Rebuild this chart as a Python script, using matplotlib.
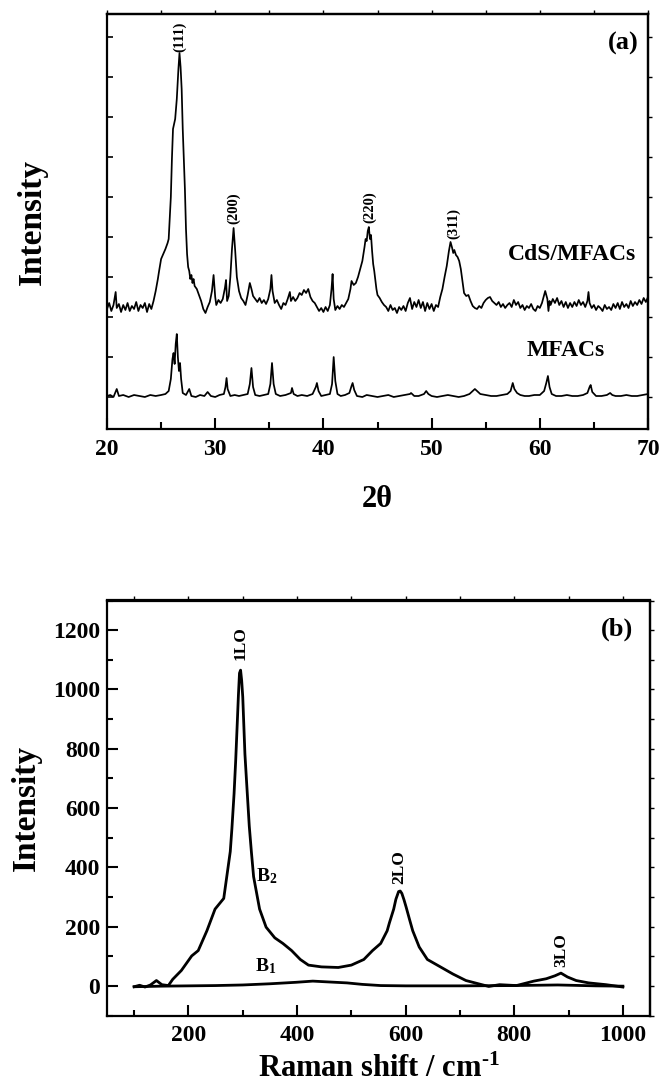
import numpy as np
import matplotlib
matplotlib.use("Agg")
import matplotlib.pyplot as plt
from matplotlib.ticker import MultipleLocator, NullFormatter

# ---- (a) XRD data (arbitrary intensity, offset curves) ----
cds_2theta = [20.0, 20.2, 20.4, 20.6, 20.8, 20.9, 21.1, 21.3, 21.5, 21.7, 21.9, 22.1, 22.3, 22.5, 22.7,
              22.9, 23.1, 23.3, 23.5, 23.7, 23.9, 24.1, 24.3, 24.5, 24.7, 24.8, 25.0, 25.2, 25.4, 25.6,
              25.7, 25.8, 25.9, 26.0, 26.1, 26.3, 26.45, 26.6, 26.7, 26.8, 26.9, 27.0, 27.1, 27.2, 27.3,
              27.4, 27.5, 27.6, 27.7, 27.8, 27.9, 28.0, 28.1, 28.3, 28.5, 28.7, 28.9, 29.1, 29.3, 29.5,
              29.7, 29.85, 30.0, 30.1, 30.3, 30.5, 30.7, 30.9, 31.0, 31.1, 31.25, 31.4, 31.55, 31.7, 31.85,
              32.0, 32.2, 32.4, 32.6, 32.8, 33.0, 33.2, 33.35, 33.5, 33.7, 33.9, 34.1, 34.3, 34.5, 34.7,
              34.9, 35.1, 35.2, 35.3, 35.5, 35.7, 35.9, 36.1, 36.3, 36.5, 36.7, 36.9, 37.0, 37.2, 37.4,
              37.6, 37.8, 38.0, 38.2, 38.4, 38.6, 38.8, 39.0, 39.2, 39.4, 39.6, 39.8, 40.0, 40.2, 40.4,
              40.6, 40.75, 40.85, 40.95, 41.1, 41.3, 41.5, 41.7, 41.9, 42.1, 42.3, 42.5, 42.6, 42.8, 43.0,
              43.2, 43.4, 43.6, 43.8, 43.9, 44.0, 44.1, 44.2, 44.3, 44.4, 44.5, 44.6, 44.7, 44.9, 45.0,
              45.2, 45.4, 45.6, 45.8, 46.0, 46.2, 46.4, 46.6, 46.8, 47.0, 47.2, 47.4, 47.6, 47.8, 48.0,
              48.2, 48.4, 48.6, 48.8, 49.0, 49.2, 49.4, 49.6, 49.8, 50.0, 50.2, 50.4, 50.6, 50.8, 51.0,
              51.2, 51.4, 51.6, 51.75, 51.9, 52.0, 52.1, 52.25, 52.4, 52.55, 52.7, 52.85, 53.0, 53.2, 53.4,
              53.6, 53.8, 54.0, 54.2, 54.4, 54.6, 54.8, 55.0, 55.2, 55.4, 55.6, 55.8, 56.0, 56.2, 56.4,
              56.6, 56.8, 57.0, 57.2, 57.4, 57.6, 57.8, 58.0, 58.2, 58.4, 58.6, 58.8, 59.0, 59.2, 59.4,
              59.6, 59.8, 60.0, 60.2, 60.4, 60.5, 60.6, 60.7, 60.8, 60.9, 61.0, 61.2, 61.4, 61.6, 61.8,
              62.0, 62.2, 62.4, 62.6, 62.8, 63.0, 63.2, 63.4, 63.6, 63.8, 64.0, 64.2, 64.4, 64.5, 64.6,
              64.8, 65.0, 65.2, 65.4, 65.6, 65.8, 66.0, 66.2, 66.4, 66.6, 66.8, 67.0, 67.2, 67.4, 67.6,
              67.8, 68.0, 68.2, 68.4, 68.6, 68.8, 69.0, 69.2, 69.4, 69.6, 69.8, 70.0]
cds_int = [120, 126, 118, 124, 137, 121, 125, 117, 124, 119, 126, 118, 123, 120, 127,
           118, 124, 121, 126, 117, 125, 120, 128, 138, 150, 157, 170, 175, 180, 186,
           190, 210, 232, 270, 300, 310, 330, 360, 376, 362, 340, 300, 270, 240, 200,
           175, 162, 158, 150, 154, 146, 150, 143, 140, 134, 128, 120, 116, 122, 127,
           138, 154, 132, 124, 129, 126, 130, 141, 149, 128, 133, 152, 180, 201, 178,
           152, 138, 131, 128, 124, 134, 146, 140, 133, 130, 127, 131, 126, 129, 125,
           130, 140, 154, 138, 126, 129, 124, 120, 126, 124, 130, 137, 128, 132, 128,
           131, 136, 134, 139, 136, 140, 132, 128, 126, 122, 118, 121, 117, 122, 118,
           124, 140, 155, 130, 119, 123, 120, 124, 122, 126, 130, 140, 148, 144, 146,
           152, 160, 168, 182, 190, 188, 198, 202, 190, 194, 178, 165, 158, 140, 134,
           131, 127, 124, 122, 118, 124, 119, 121, 116, 122, 119, 123, 118, 126, 131,
           120, 127, 122, 129, 121, 127, 118, 126, 120, 125, 118, 124, 122, 132, 140,
           152, 163, 178, 187, 181, 176, 179, 174, 172, 168, 160, 148, 136, 133, 134,
           128, 123, 121, 120, 123, 121, 126, 129, 131, 132, 128, 126, 124, 127, 122,
           125, 121, 124, 126, 122, 129, 124, 127, 121, 124, 119, 123, 121, 125, 120,
           118, 123, 121, 126, 134, 138, 134, 130, 118, 128, 124, 130, 126, 131, 124,
           128, 122, 127, 121, 126, 122, 127, 123, 129, 124, 127, 122, 128, 137, 126,
           121, 124, 119, 123, 121, 118, 124, 120, 122, 119, 125, 121, 126, 120, 127,
           122, 125, 121, 128, 123, 127, 124, 129, 125, 131, 127, 132]

mfac_2theta = [20.0, 20.3, 20.6, 20.9, 21.1, 21.5, 22.0, 22.5, 23.0, 23.5, 24.0, 24.5, 25.0, 25.4, 25.7,
               25.9, 26.05, 26.15, 26.25, 26.35, 26.45, 26.55, 26.65, 26.75, 26.85, 27.0, 27.3, 27.6, 27.8, 28.2,
               28.6, 29.0, 29.3, 29.6, 30.0, 30.4, 30.8, 30.95, 31.05, 31.15, 31.4, 31.8, 32.2, 32.6, 33.0,
               33.2, 33.35, 33.5, 33.7, 34.1, 34.5, 34.9, 35.1, 35.25, 35.4, 35.6, 36.0, 36.5, 37.0, 37.1,
               37.25, 37.6, 38.0, 38.5, 39.0, 39.3, 39.4, 39.55, 39.8, 40.2, 40.6, 40.8, 40.95, 41.1, 41.3,
               41.6, 42.0, 42.4, 42.6, 42.7, 42.85, 43.1, 43.6, 44.0, 44.5, 45.0, 45.5, 46.0, 46.5, 47.0,
               47.5, 48.0, 48.1, 48.4, 48.8, 49.3, 49.5, 49.7, 50.0, 50.5, 51.0, 51.5, 52.0, 52.5, 53.0,
               53.5, 53.8, 54.0, 54.2, 54.5, 55.0, 55.5, 56.0, 56.5, 57.0, 57.3, 57.5, 57.65, 57.9, 58.2,
               58.6, 59.0, 59.5, 60.0, 60.4, 60.6, 60.75, 60.9, 61.1, 61.5, 62.0, 62.5, 63.0, 63.5, 64.0,
               64.4, 64.6, 64.7, 64.85, 65.2, 65.7, 66.2, 66.5, 66.7, 67.0, 67.5, 68.0, 68.5, 69.0, 69.5,
               70.0]
mfac_int = [33, 34, 32, 40, 33, 34, 32, 34, 33, 32, 34, 33, 34, 35, 38,
            50, 70, 76, 65, 85, 95, 72, 58, 66, 50, 36, 34, 40, 33, 32,
            34, 33, 37, 33, 32, 34, 35, 42, 51, 40, 33, 34, 33, 34, 35,
            45, 61, 42, 34, 33, 34, 35, 45, 66, 45, 35, 33, 34, 36, 41,
            35, 33, 34, 33, 35, 42, 46, 38, 33, 34, 35, 45, 72, 48, 35,
            33, 34, 36, 43, 46, 39, 33, 32, 34, 33, 32, 33, 34, 32, 33,
            34, 35, 36, 33, 33, 35, 38, 35, 33, 32, 33, 34, 33, 32, 33,
            35, 38, 40, 38, 35, 34, 33, 33, 34, 35, 38, 46, 40, 36, 34,
            33, 33, 34, 34, 38, 46, 53, 42, 35, 33, 33, 34, 33, 33, 34,
            36, 42, 44, 37, 33, 33, 34, 36, 34, 33, 33, 34, 33, 33, 34,
            35]

hkl_labels = ["(111)", "(200)", "(220)", "(311)"]
hkl_pos = [26.7, 31.7, 44.3, 52.0]
hkl_height = [377, 205, 206, 190]

# ---- (b) Raman data ----
b2_shift = [100, 110, 120, 130, 141, 151, 163, 171, 187, 206, 218, 234, 249, 265, 277,
            280, 284, 287, 290, 292, 294, 296, 298, 300, 304, 307, 312, 316, 320, 331,
            343, 359, 374, 390, 406, 421, 445, 476, 500, 523, 539, 554, 566, 570, 578,
            582, 587, 590, 593, 597, 601, 607, 613, 625, 640, 664, 687, 711, 734, 753,
            773, 804, 836, 859, 875, 886, 898, 914, 937, 969, 1000]
b2_int = [-3, 2, -4, 3, 18, 4, 1, 22, 52, 101, 119, 186, 259, 295, 453,
          530, 648, 760, 891, 980, 1055, 1065, 1030, 975, 782, 690, 539, 450, 368, 259,
          198, 162, 143, 119, 89, 70, 64, 62, 70, 89, 119, 143, 186, 212, 259,
          292, 318, 320, 312, 290, 265, 225, 186, 131, 89, 64, 40, 18, 7, -2,
          4, 1, 16, 24, 34, 43, 30, 18, 10, 4, -4]

b1_shift = [100, 150, 200, 250, 300, 350, 398, 429, 460, 492, 520, 554, 600, 700, 800, 880, 950, 1000]
b1_int = [-3, -1, 0, 1, 3, 7, 12, 16, 13, 10, 5, 1, 0, 0, 1, 3, 0, -1]

lo_labels = ["1LO", "2LO", "3LO"]
lo_pos = [296, 588, 886]
lo_height = [1100, 345, 65]

plt.rcParams['font.family'] = ['Liberation Serif', 'DejaVu Serif']
plt.rcParams['font.weight'] = 'bold'
plt.rcParams['mathtext.fontset'] = 'custom'
plt.rcParams['mathtext.rm'] = 'Liberation Serif:bold'
plt.rcParams['mathtext.it'] = 'Liberation Serif:bold'
plt.rcParams['mathtext.bf'] = 'Liberation Serif:bold'

fig = plt.figure(figsize=(6.62, 10.85), dpi=100)
axa = fig.add_axes([107/662, 656/1085, 541/662, 415/1085])
axb = fig.add_axes([107/662, 69.5/1085, 543/662, 415/1085])

lw_spine = 1.6

# --- panel (a) ---
axa.plot(cds_2theta, cds_int, color='black', linewidth=1.25)
axa.plot(mfac_2theta, mfac_int, color='black', linewidth=1.25)
axa.set_xlim(20, 70)
axa.set_ylim(0, 415)
axa.xaxis.set_major_locator(MultipleLocator(10))
axa.xaxis.set_minor_locator(MultipleLocator(5))
axa.set_yticks(np.arange(32, 400, 40))
axa.yaxis.set_major_formatter(NullFormatter())
axa.tick_params(axis='x', which='major', direction='in', length=8, width=1.5, labelsize=17, pad=7)
axa.tick_params(axis='x', which='minor', direction='in', length=5, width=1.5)
axa.tick_params(axis='y', which='major', direction='in', length=4, width=1.2)
for lab, x, y in zip(hkl_labels, hkl_pos, hkl_height):
    axa.text(x, y, lab, rotation=90, ha='center', va='bottom', fontsize=10.5, fontweight='bold')
axa.text(63.0, 175, "CdS/MFACs", ha='center', va='center', fontsize=17, fontweight='bold')
axa.text(62.4, 78, "MFACs", ha='center', va='center', fontsize=17, fontweight='bold')
axa.text(0.955, 0.93, "(a)", transform=axa.transAxes, ha='center', va='center', fontsize=19, fontweight='bold')
axa.set_xlabel("2θ", fontsize=22, fontweight='bold')
axa.xaxis.set_label_coords(0.5, -0.135)
axa.set_ylabel("Intensity", fontsize=24, fontweight='bold')
axa.yaxis.set_label_coords(-0.11, 0.5)
topa = axa.secondary_xaxis('top')
topa.set_xticks(np.arange(20, 71, 5))
topa.tick_params(direction='out', length=3, width=1, labeltop=False)
righta = axa.secondary_yaxis('right')
righta.set_yticks(np.arange(32, 400, 40))
righta.tick_params(direction='out', length=3, width=1, labelright=False)

# --- panel (b) ---
axb.plot(b2_shift, b2_int, color='black', linewidth=2.0)
axb.plot(b1_shift, b1_int, color='black', linewidth=2.0)
axb.set_xlim(50, 1050)
axb.set_ylim(-100, 1300)
axb.xaxis.set_minor_locator(MultipleLocator(100))
axb.yaxis.set_major_locator(MultipleLocator(200))
axb.yaxis.set_minor_locator(MultipleLocator(100))
axb.set_xticks([200, 400, 600, 800, 1000])
axb.tick_params(axis='both', which='major', direction='in', length=8, width=1.5, labelsize=17)
axb.tick_params(axis='x', which='major', pad=7)
axb.tick_params(axis='y', which='major', pad=5)
axb.tick_params(axis='both', which='minor', direction='in', length=4, width=1.5)
for lab, x, y in zip(lo_labels, lo_pos, lo_height):
    axb.text(x, y, lab, rotation=90, ha='center', va='bottom', fontsize=12.5, fontweight='bold')
axb.text(345, 370, r"B$_2$", ha='center', va='center', fontsize=14, fontweight='bold')
axb.text(342, 65, r"B$_1$", ha='center', va='center', fontsize=14, fontweight='bold')
axb.text(0.94, 0.93, "(b)", transform=axb.transAxes, ha='center', va='center', fontsize=19, fontweight='bold')
axb.set_xlabel(r"Raman shift / cm$^{\text{-1}}$", fontsize=22, fontweight='bold')
axb.xaxis.set_label_coords(0.5, -0.095)
axb.set_ylabel("Intensity", fontsize=24, fontweight='bold')
axb.yaxis.set_label_coords(-0.12, 0.5)
topb = axb.secondary_xaxis('top')
topb.set_xticks(np.arange(100, 1001, 100))
topb.tick_params(direction='out', length=3, width=1, labeltop=False)
rightb = axb.secondary_yaxis('right')
rightb.set_yticks(np.arange(-100, 1301, 100))
rightb.tick_params(direction='out', length=3, width=1, labelright=False)

for ax in (axa, axb, topa, righta, topb, rightb):
    for sp in ax.spines.values():
        sp.set_linewidth(lw_spine)

fig.savefig("out.png", dpi=100)
